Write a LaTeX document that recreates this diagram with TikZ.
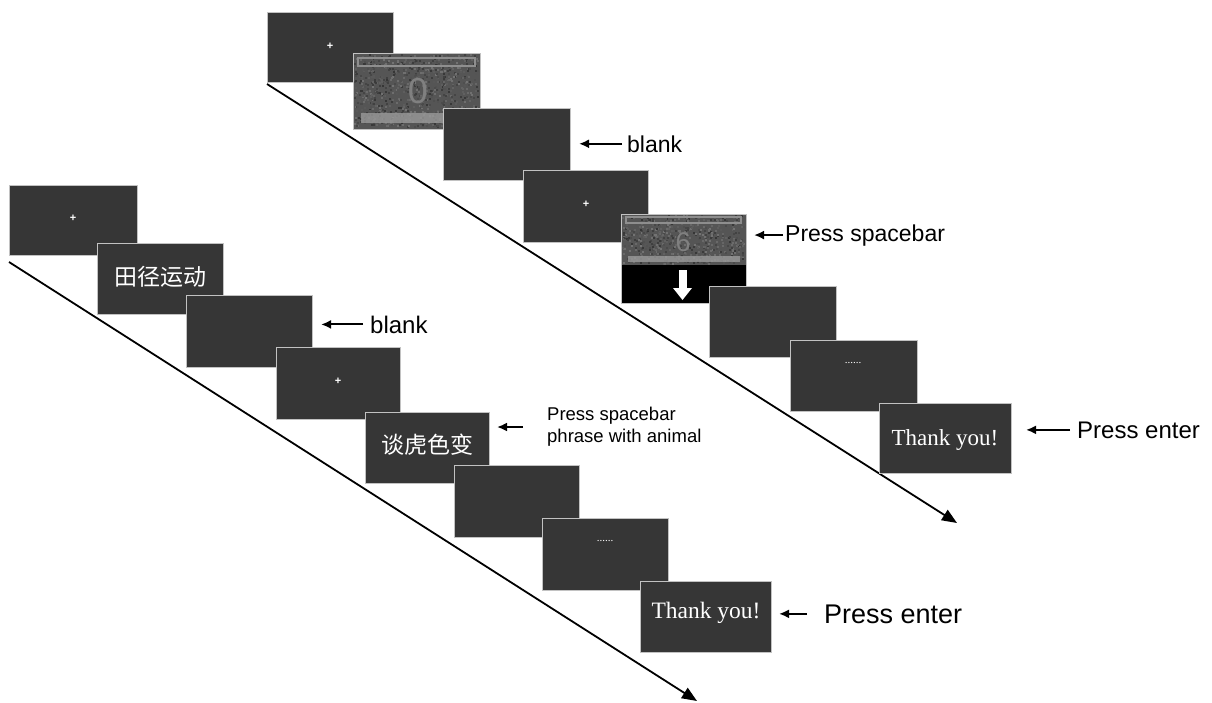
\documentclass[tikz,border=0pt]{standalone}
\usepackage{fontspec}
\setmainfont{Liberation Serif}
\newfontfamily\lsans{Liberation Sans}
\newfontfamily\cjk{Noto Sans CJK SC}
\usetikzlibrary{arrows.meta}
\definecolor{scr}{HTML}{363636}
\definecolor{scrborder}{HTML}{C2C2C2}
\definecolor{noisebg}{HTML}{555555}
\definecolor{barline}{HTML}{8E8E8E}
\definecolor{barfill}{HTML}{9A9A9A}
\definecolor{digit}{HTML}{808080}
\tikzset{
  screen/.style={draw=scrborder, fill=scr, line width=1pt, inner sep=0pt, anchor=north west},
  noisescreen/.style={screen, fill=noisebg},
  cross/.style={text=white, inner sep=0pt, font=\lsans\bfseries\fontsize{11}{11}\selectfont},
  dots/.style={text=white, inner sep=0pt, font=\fontsize{11}{11}\selectfont},
  cjktext/.style={text=white, inner sep=0pt, font=\cjk\fontsize{23}{26}\selectfont},
  thanks/.style={text=white, inner sep=0pt, font=\fontsize{23}{26}\selectfont},
  lbl/.style={font=\lsans\fontsize{23}{26}\selectfont, inner sep=0pt, anchor=base west},
  lblarrow/.style={-{Latex[length=10pt,width=9pt]}, line width=2pt, shorten >=8pt},
  timeline/.style={-{Triangle[length=15pt,width=12pt]}, line width=1.8pt},
}
\newcommand{\speckle}[5]{%
  \foreach \k in {1,...,#5}{%
    \pgfmathsetmacro{\nx}{#1+(#3-2)*rnd}%
    \pgfmathsetmacro{\ny}{#2+(#4-2)*rnd}%
    \pgfmathtruncatemacro{\ng}{55+25*rnd}%
    \fill[black!\ng!white] (\nx,\ny) rectangle ++(2,2);
  }%
}
\begin{document}
\begin{tikzpicture}[x=1pt, y=-1pt]
\pgfmathsetseed{7}
\useasboundingbox (0,0) rectangle (1212,702);
\fill[white] (0,0) rectangle (1212,702);

% ---------------- time lines ----------------
\coordinate (ta) at (267,84);
\coordinate (tb) at (957,523);
\draw[timeline] (ta) -- (tb);
\coordinate (ba) at (9,262);
\coordinate (bb) at (697,701);
\draw[timeline] (ba) -- (bb);

% ---------------- top sequence ----------------
\node[screen, minimum width=126pt, minimum height=70pt] (t1) at (267,12) {};
\node[cross] at (330,46) {+};

\node[noisescreen, minimum width=127pt, minimum height=76pt] (t2) at (353,53) {};
\begin{scope}
  \clip (354,54) rectangle (479,128);
  \speckle{354}{54}{125}{74}{900}
  \draw[barline, line width=1.6pt] (358,58) rectangle (475,66);
  \fill[barfill, opacity=0.8] (361,113) rectangle (477,123);
  \node[text=digit, font=\lsans\fontsize{36}{36}\selectfont, inner sep=0pt] (d0) at (418,91) {0};
\end{scope}

\node[screen, minimum width=127pt, minimum height=72pt] (t3) at (443,108) {};
\node[screen, minimum width=125pt, minimum height=72pt] (t4) at (523,170) {};
\node[cross] at (586,204) {+};

\node[noisescreen, minimum width=125pt, minimum height=89pt] (t5) at (621,214) {};
\begin{scope}
  \clip (622,215) rectangle (745,265);
  \speckle{622}{215}{123}{50}{620}
  \draw[barline, line width=1.4pt] (626,217) rectangle (741,223);
  \fill[barfill, opacity=0.8] (628,256) rectangle (740,262);
  \node[text=digit, font=\lsans\fontsize{27}{27}\selectfont, inner sep=0pt] (d6) at (683,242) {6};
\end{scope}
\fill[black] (621.5,265) rectangle (745.5,302.5);
\fill[white] (679,270) rectangle (687,289);
\fill[white] (673,288) -- (692,288) -- (682.5,300) -- cycle;

\node[screen, minimum width=127pt, minimum height=71pt] (t6) at (709,286) {};
\node[screen, minimum width=127pt, minimum height=71pt] (t7) at (790,340) {};
\node[dots] at (853,363) {......};
\node[screen, minimum width=132pt, minimum height=70pt] (t8) at (879,403) {};
\node[thanks] at (945,440) {Thank you!};

% top labels
\node[lbl] (lt3) at (627,152) {blank};
\draw[lblarrow] ([xshift=-5pt]lt3.west) -- (lt3.west -| t3.east);
\node[lbl] (lt5) at (785,241) {Press spacebar};
\draw[lblarrow, shorten >=7pt] ([xshift=-2pt]lt5.west) -- (lt5.west -| t5.east);
\node[lbl, font=\lsans\fontsize{24}{26}\selectfont] (lt8) at (1077,438) {Press enter};
\draw[lblarrow, shorten >=14pt] ([xshift=-7pt]lt8.west) -- (lt8.west -| t8.east);

% ---------------- bottom sequence ----------------
\node[screen, minimum width=128pt, minimum height=70pt] (b1) at (9,185) {};
\node[cross] at (73,218) {+};
\node[screen, minimum width=126pt, minimum height=71pt] (b2) at (97,243) {};
\node[cjktext] at (160,277) {田径运动};
\node[screen, minimum width=126pt, minimum height=72pt] (b3) at (186,295) {};
\node[screen, minimum width=124pt, minimum height=72pt] (b4) at (276,347) {};
\node[cross] at (338,381) {+};
\node[screen, minimum width=124pt, minimum height=71pt] (b5) at (365,412) {};
\node[cjktext] at (427,445) {谈虎色变};
\node[screen, minimum width=125pt, minimum height=72pt] (b6) at (454,465) {};
\node[screen, minimum width=126pt, minimum height=72pt] (b7) at (542,518) {};
\node[dots] at (605,541) {......};
\node[screen, minimum width=131pt, minimum height=71pt] (b8) at (640,581) {};
\node[thanks, font=\fontsize{23.5}{26}\selectfont] at (706,613) {Thank you!};

% bottom labels
\node[lbl, font=\lsans\fontsize{24}{26}\selectfont] (lb3) at (370,333) {blank};
\draw[lblarrow] ([xshift=-7pt]lb3.west) -- (lb3.west -| b3.east);
\node[font=\lsans\fontsize{18.5}{22}\selectfont, inner sep=0pt, anchor=west, align=left] (lb5) at (547,427) {Press spacebar\\phrase with animal};
\draw[lblarrow, shorten >=7pt] ([xshift=-24pt]lb5.west) -- (lb5.west -| b5.east);
\node[lbl, font=\lsans\fontsize{27}{30}\selectfont] (lb8) at (824,623) {Press enter};
\draw[lblarrow, shorten >=7pt] ([xshift=-17pt]lb8.west) -- (lb8.west -| b8.east);
\end{tikzpicture}
\end{document}
